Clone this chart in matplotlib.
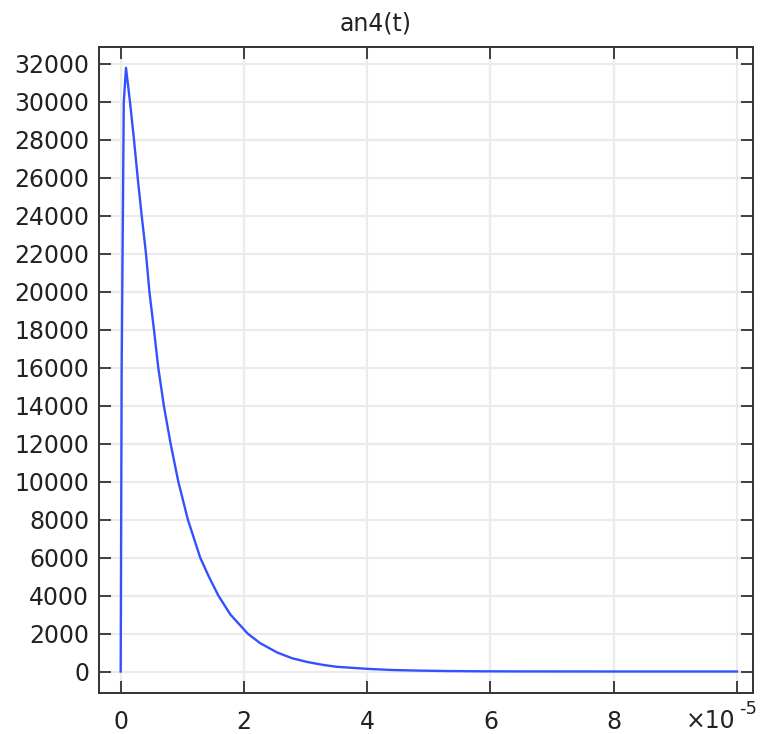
import matplotlib
matplotlib.use("Agg")
import matplotlib.pyplot as plt

# time in units of 1e-5 s
t = [0, 0.016, 0.05, 0.086, 0.151, 0.216, 0.276, 0.341, 0.411, 0.466, 0.54, 0.61,
     0.70, 0.81, 0.935, 1.09, 1.29, 1.43, 1.585, 1.78, 2.06, 2.26, 2.54, 2.78,
     3.03, 3.28, 3.5, 4.0, 4.4, 4.8, 5.3, 5.8, 6.5, 7.2, 8.0, 10.0]
an4 = [0, 16000, 30000, 31800, 30000, 28000, 26000, 24000, 22000, 20000, 18000, 16000,
       14000, 12000, 10000, 8000, 6000, 5000, 4000, 3000, 2000, 1500, 1000, 700,
       500, 350, 250, 140, 80, 50, 25, 12, 5, 2, 1, 0]

xticks = [0, 2, 4, 6, 8, 10]
xticklabels = ["0", "2", "4", "6", "8", ""]
yticks = list(range(0, 32001, 2000))
title = "an4(t)"

fig = plt.figure(figsize=(7.64, 7.34), dpi=100)
ax = fig.add_axes([99/764, 1-693/734, (753-99)/764, (693-47)/734])

ax.plot(t, an4, color="#3352ff", lw=1.7, zorder=3)

ax.set_xlim(-0.352, 10.26)
ax.set_ylim(-1132, 32895)
ax.set_xticks(xticks)
ax.set_xticklabels(xticklabels)
ax.set_yticks(yticks)
ax.grid(True, color="#ebebeb", lw=1.6, zorder=0)
ax.set_axisbelow(True)
ax.tick_params(direction="in", length=8.6, width=1.3, color="#333333",
               top=True, right=True, labelsize=17, labelcolor="#222222")
ax.tick_params(axis="x", pad=12)
ax.tick_params(axis="y", pad=7)
for s in ax.spines.values():
    s.set_linewidth(1.4)
    s.set_color("#333333")

fig.text(375.5/764, 1-23/734, title, ha="center", va="center", fontsize=17, color="#222222")
fig.text(686/764, 1-728/734, "\u00d710", ha="left", va="baseline",
         fontsize=17, color="#222222")
fig.text(739/764, 1-714/734, "-5", ha="left", va="baseline",
         fontsize=13, color="#222222")

fig.savefig("out.png", dpi=100)
